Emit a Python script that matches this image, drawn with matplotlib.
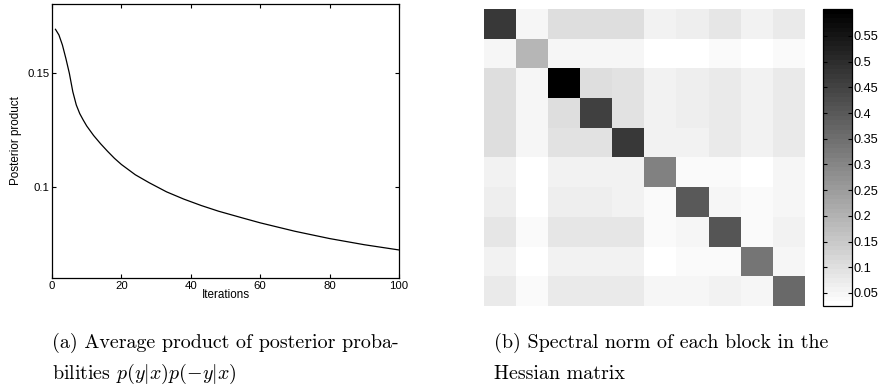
import numpy as np
import matplotlib
matplotlib.use('Agg')
import matplotlib.pyplot as plt

plt.rcParams['mathtext.fontset'] = 'cm'
plt.rcParams['font.family'] = ['Liberation Sans', 'DejaVu Sans']

# (a) posterior product vs iterations
iters = [1, 2, 3, 4, 5, 6, 7, 8, 9, 10, 12, 14, 16, 18, 20, 24, 28, 33, 38, 43, 48,
         55, 60, 70, 80, 90, 100]
post_prod = [0.1692, 0.1667, 0.1623, 0.1564, 0.1499, 0.1418, 0.1360, 0.1322, 0.1294,
             0.1268, 0.1226, 0.1190, 0.1157, 0.1126, 0.1099, 0.1054, 0.1019, 0.0979,
             0.0947, 0.0919, 0.0894, 0.0864, 0.0843, 0.0806, 0.0774, 0.0747, 0.0724]
x_ticks = [0, 20, 40, 60, 80, 100]
y_ticks = [0.1, 0.15]
y_labels = ['0.1', '0.15']

# (b) spectral norm of each block (10 x 10)
norms = np.array([
    [0.476, 0.048, 0.100, 0.100, 0.100, 0.054, 0.064, 0.086, 0.054, 0.070],
    [0.048, 0.195, 0.048, 0.048, 0.048, 0.025, 0.025, 0.036, 0.025, 0.036],
    [0.100, 0.048, 0.600, 0.104, 0.091, 0.054, 0.064, 0.077, 0.054, 0.070],
    [0.100, 0.048, 0.104, 0.458, 0.091, 0.054, 0.064, 0.077, 0.054, 0.070],
    [0.100, 0.048, 0.091, 0.091, 0.476, 0.054, 0.054, 0.077, 0.054, 0.070],
    [0.054, 0.025, 0.054, 0.054, 0.054, 0.311, 0.036, 0.036, 0.025, 0.048],
    [0.068, 0.025, 0.068, 0.068, 0.054, 0.036, 0.403, 0.048, 0.036, 0.048],
    [0.086, 0.036, 0.082, 0.082, 0.082, 0.036, 0.048, 0.410, 0.036, 0.054],
    [0.054, 0.025, 0.054, 0.054, 0.054, 0.025, 0.036, 0.036, 0.333, 0.048],
    [0.077, 0.036, 0.077, 0.077, 0.077, 0.048, 0.048, 0.054, 0.048, 0.362],
])
cb_ticks = [0.05, 0.1, 0.15, 0.2, 0.25, 0.3, 0.35, 0.4, 0.45, 0.5, 0.55]
cb_labels = ['0.05', '0.1', '0.15', '0.2', '0.25', '0.3', '0.35', '0.4', '0.45', '0.5', '0.55']

caption_a = ['(a) Average product of posterior proba-',
             r'bilities $p(y|x)p(-y|x)$']
caption_b = ['(b) Spectral norm of each block in the',
             'Hessian matrix']

fig = plt.figure(figsize=(8.86, 3.92), dpi=100)

# left panel
ax = fig.add_axes([52/886, 1-278/392, 347/886, 274/392])
ax.plot(iters, post_prod, color='k', lw=0.9)
ax.set_xlim(0, 100)
ax.set_ylim(0.0601, 0.1803)
ax.set_xticks(x_ticks)
ax.set_xticklabels([str(t) for t in x_ticks])
ax.set_yticks(y_ticks)
ax.set_yticklabels(y_labels)
ax.tick_params(direction='in', top=True, right=True, length=3, width=0.8,
               labelsize=8.2, pad=2)
for s in ax.spines.values():
    s.set_linewidth(0.9)
ax.set_xlabel('Iterations', fontsize=8.4, labelpad=-1)
ax.set_ylabel('Posterior product', fontsize=8.4, labelpad=4)

# right panel: heatmap
ax2 = fig.add_axes([484/886, 1-306/392, 321/886, 297/392])
cmap = plt.get_cmap('gray_r', 64)
im = ax2.imshow(norms, cmap=cmap, vmin=0.0247, vmax=0.6025, aspect='auto',
                interpolation='nearest')
ax2.axis('off')

cax = fig.add_axes([823/886, 1-306/392, 29/886, 297/392])
cb = fig.colorbar(im, cax=cax)
cb.set_ticks(cb_ticks)
cb.set_ticklabels(cb_labels)
cax.tick_params(direction='in', left=True, right=True, length=3, width=0.8,
                labelsize=9.2, pad=1)
cb.outline.set_linewidth(0.9)

# captions
cap_font = dict(fontsize=14.4, family='cmr10', va='baseline', ha='left')
fig.text(52/886, 1-348/392, caption_a[0], **cap_font)
fig.text(52/886, 1-379/392, caption_a[1], **cap_font)
fig.text(494/886, 1-348/392, caption_b[0], **cap_font)
fig.text(494/886, 1-379/392, caption_b[1], **cap_font)

fig.savefig('out.png', dpi=100)
